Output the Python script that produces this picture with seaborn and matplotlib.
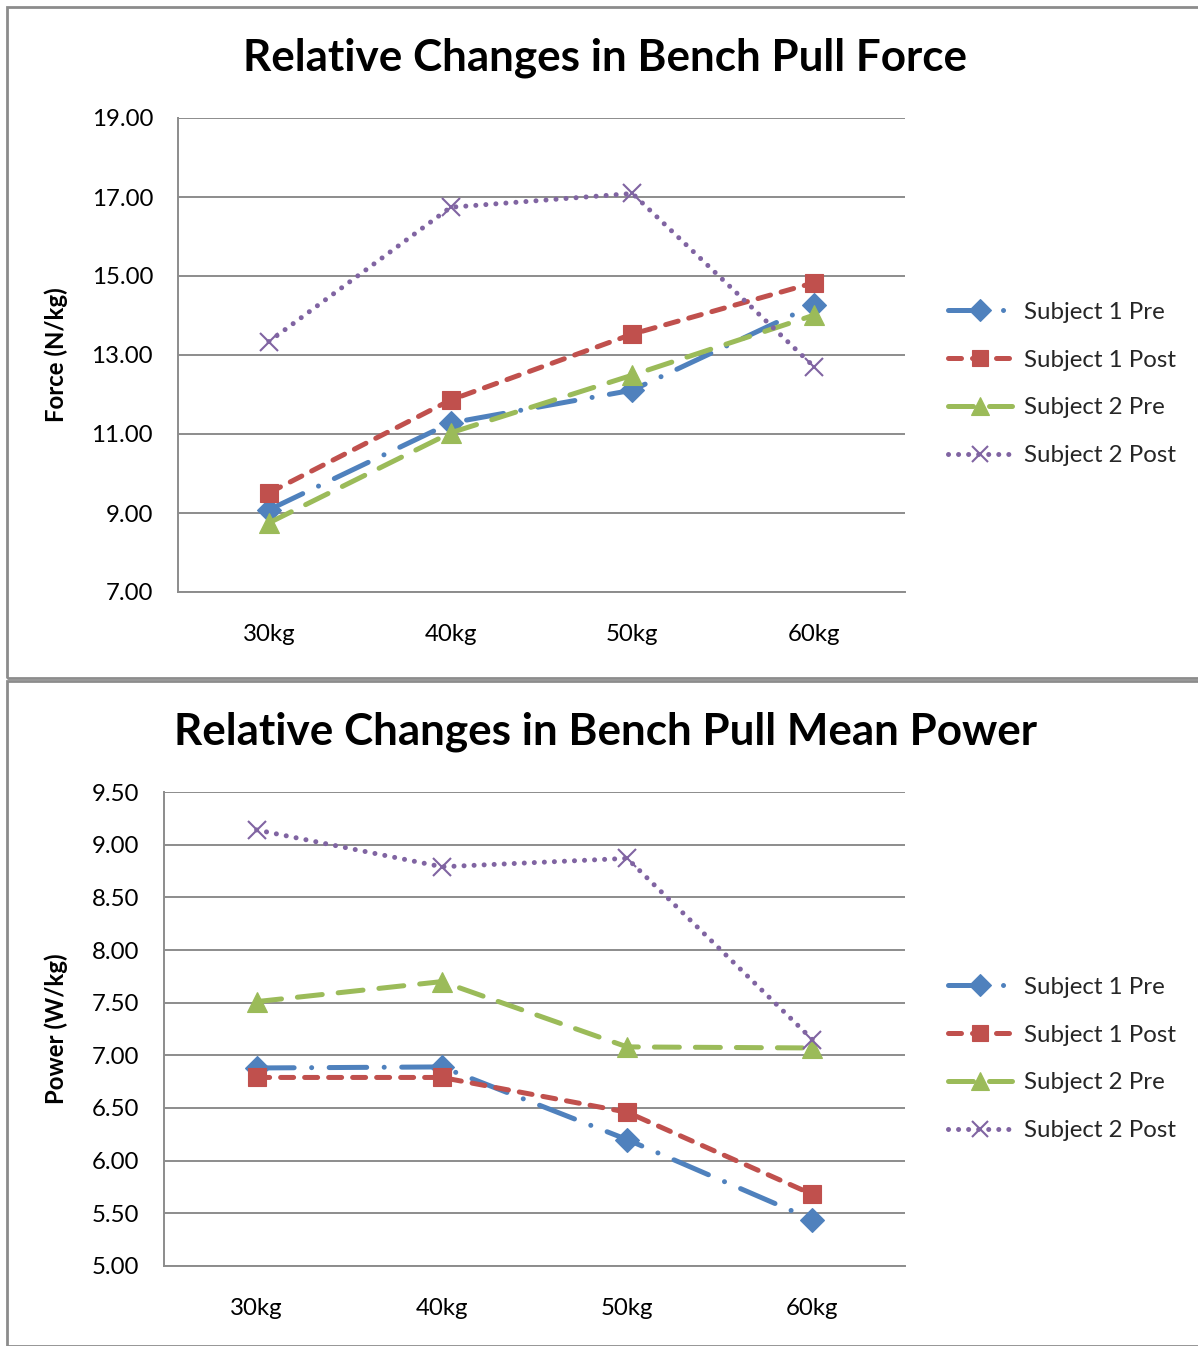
import matplotlib
matplotlib.use("Agg")
import matplotlib.pyplot as plt
import seaborn as sns
import pandas as pd
from matplotlib.lines import Line2D
from matplotlib.patches import Rectangle

sns.set_theme(style="white")
plt.rcParams['font.family'] = ['Lato', 'DejaVu Sans']

loads = ["30kg", "40kg", "50kg", "60kg"]
series_names = ["Subject 1 Pre", "Subject 1 Post", "Subject 2 Pre", "Subject 2 Post"]

force_s1_pre = [9.08, 11.28, 12.11, 14.27]
force_s1_post = [9.51, 11.86, 13.53, 14.83]
force_s2_pre = [8.75, 11.03, 12.49, 14.01]
force_s2_post = [13.34, 16.74, 17.09, 12.70]

power_s1_pre = [6.88, 6.89, 6.20, 5.44]
power_s1_post = [6.79, 6.79, 6.46, 5.68]
power_s2_pre = [7.51, 7.70, 7.08, 7.07]
power_s2_post = [9.14, 8.79, 8.87, 7.15]

force_ticks = [7, 9, 11, 13, 15, 17, 19]
power_ticks = [5.0, 5.5, 6.0, 6.5, 7.0, 7.5, 8.0, 8.5, 9.0, 9.5]

colors = ["#4F81BD", "#C0504D", "#9BBB59", "#8064A2"]
markers = ["D", "s", "^", "x"]
msizes = [12, 13, 14, 13]
styles = [(0, (7.5, 3.5, 0.01, 3.5)), (0, (2.6, 2.2)), (0, (5.0, 3.2)), (0, (0.01, 2.0))]
caps = ["round", "round", "round", "round"]
LW = 3.6

W, H = 1198, 1346
fig = plt.figure(figsize=(W / 100, H / 100), dpi=100)

# panel borders
for (y0, y1) in [(7, 678), (681, 1346)]:
    fig.patches.append(Rectangle((7 / W, 1 - y1 / H), (W + 20) / W, (y1 - y0) / H,
                                 transform=fig.transFigure, fill=False,
                                 edgecolor="#8c8c8c", lw=2.0, zorder=0))


def panel(rect, data, ticks, ylabel, title, title_y, label_x, legend_y):
    ax = fig.add_axes(rect)
    for i, (name, vals) in enumerate(zip(series_names, data)):
        df = pd.DataFrame({"load": loads, "value": vals})
        sns.lineplot(data=df, x="load", y="value", ax=ax, color=colors[i],
                     linestyle=styles[i], linewidth=LW, marker=markers[i],
                     markersize=msizes[i], markeredgecolor=colors[i],
                     markeredgewidth=1.5 if markers[i] == "x" else 0.8,
                     dash_capstyle=caps[i], sort=False, zorder=3)
    ax.set_xlim(-0.5, 3.5)
    ax.set_ylim(ticks[0], ticks[-1])
    ax.set_yticks(ticks)
    ax.set_yticklabels([f"{t:.2f}" for t in ticks])
    ax.grid(axis="y", color="#8c8c8c", lw=1.4)
    ax.grid(axis="x", visible=False)
    for s in ["top", "right"]:
        ax.spines[s].set_visible(False)
    for s in ["left", "bottom"]:
        ax.spines[s].set_color("#8c8c8c")
        ax.spines[s].set_linewidth(1.4)
    ax.tick_params(axis="y", length=0, pad=18, labelsize=17.3, labelcolor="black")
    ax.tick_params(axis="x", length=0, pad=23, labelsize=17.3, labelcolor="black")
    ax.set_xlabel("")
    ax.set_ylabel(ylabel, fontsize=17.3, fontweight="bold", color="black")
    ax.yaxis.set_label_coords(label_x, 0.5)
    fig.text(605 / W, 1 - title_y / H, title, ha="center", va="center",
             fontsize=31.7, fontweight="bold", color="black")
    handles = [Line2D([], [], color=colors[i], linestyle=styles[i], linewidth=LW,
                      marker=markers[i], markersize=msizes[i] - 1,
                      markeredgecolor=colors[i], dash_capstyle=caps[i],
                      markeredgewidth=1.5 if markers[i] == "x" else 0.8)
               for i in range(4)]
    fig.legend(handles, series_names, loc="center left",
               bbox_to_anchor=(938 / W, 1 - legend_y / H), frameon=False,
               fontsize=17.3, handlelength=2.7, handletextpad=0.5,
               labelspacing=1.12, borderaxespad=0)
    return ax


panel([178 / W, 1 - 592 / H, 727 / W, 474 / H],
      [force_s1_pre, force_s1_post, force_s2_pre, force_s2_post],
      force_ticks, "Force (N/kg)", "Relative Changes in Bench Pull Force",
      58, (68 - 178) / 727, 384)
panel([164 / W, 1 - 1266 / H, 741 / W, 474 / H],
      [power_s1_pre, power_s1_post, power_s2_pre, power_s2_post],
      power_ticks, "Power (W/kg)", "Relative Changes in Bench Pull Mean Power",
      732, (68 - 164) / 741, 1059)

fig.savefig("out.png", dpi=100)
